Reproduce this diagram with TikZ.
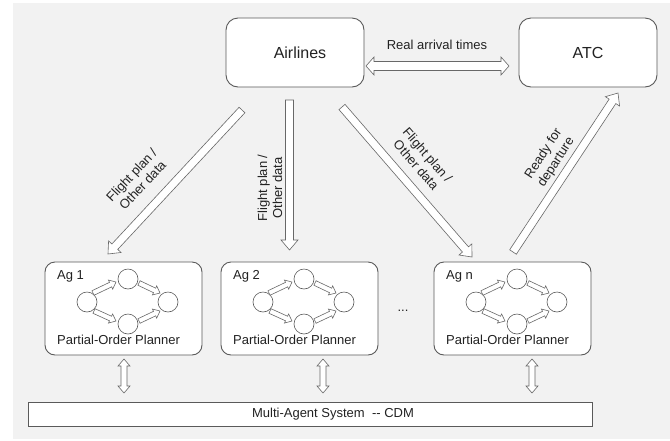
\documentclass[tikz,border=0pt]{standalone}
\usepackage{fontspec}
\setmainfont{Liberation Sans}
\usetikzlibrary{calc}

\definecolor{bggray}{HTML}{F2F2F2}
\definecolor{edge}{HTML}{5A5A5A}
\definecolor{arrowedge}{HTML}{686868}
\definecolor{ink}{HTML}{222222}

% hollow block arrow from #1 to #2: half body width #3, half head width #4, head length #5
\newcommand\blkarrow[5]{%
  \coordinate (blk-h) at ($(#2)!#5!(#1)$);
  \draw[hollowarrow] ($(#1)!#3!90:(#2)$) -- ($(blk-h)!#3!90:(#2)$) -- ($(blk-h)!#4!90:(#2)$)
    -- (#2) -- ($(blk-h)!#4!-90:(#2)$) -- ($(blk-h)!#3!-90:(#2)$) -- ($(#1)!#3!-90:(#2)$) -- cycle;
}
% hollow block arrow with a head at both ends
\newcommand\dblkarrow[5]{%
  \coordinate (blk-a) at ($(#1)!#5!(#2)$);
  \coordinate (blk-b) at ($(#2)!#5!(#1)$);
  \draw[hollowarrow] (#1) -- ($(blk-a)!#4!90:(#2)$) -- ($(blk-a)!#3!90:(#2)$) -- ($(blk-b)!#3!90:(#2)$)
    -- ($(blk-b)!#4!90:(#2)$) -- (#2) -- ($(blk-b)!#4!-90:(#2)$) -- ($(blk-b)!#3!-90:(#2)$)
    -- ($(blk-a)!#3!-90:(#2)$) -- ($(blk-a)!#4!-90:(#2)$) -- cycle;
}

\tikzset{
  bigbox/.style={draw=edge, line width=0.9pt, rounded corners=12pt, fill=white,
    minimum width=138pt, minimum height=69pt, inner sep=0pt,
    font=\fontsize{16}{19}\selectfont, text=ink},
  agbox/.style={draw=edge, line width=0.9pt, rounded corners=10pt, fill=white},
  plannode/.style={circle, draw=edge, line width=0.6pt, fill=white, minimum size=20pt, inner sep=0pt},
  hollowarrow/.style={draw=arrowedge, line width=0.6pt, fill=white, line join=miter},
  lbl/.style={font=\fontsize{13}{15}\selectfont, text=ink, align=center, inner sep=0pt},
  small/.style={font=\fontsize{13}{15}\selectfont, text=ink, inner sep=0pt},
  masbox/.style={draw=edge, line width=0.9pt, fill=white, minimum width=564pt,
    minimum height=24pt, inner sep=0pt, font=\fontsize{13}{15}\selectfont, text=ink},
}

\begin{document}
\begin{tikzpicture}[x=1pt, y=-1pt]
\useasboundingbox (0,0) rectangle (670,440);
\fill[bggray] (13,3) rectangle (670,439);

% top level actors
\node[bigbox] (airlines) at (295,52.5) {\hspace*{10pt}Airlines};
\node[bigbox] (atc) at (588,52.5) {ATC};

% information flow between airlines and ATC
\coordinate (ra-a) at (366,66);
\coordinate (ra-b) at (509,66);
\dblkarrow{ra-a}{ra-b}{4.5pt}{9pt}{8pt}
\node[small] (ra-lbl) at (437,45) {Real arrival times};

% agents
\foreach \n/\x/\lab in {ag1/45/Ag 1, ag2/221/Ag 2, agn/434/Ag n}{
  \begin{scope}[shift={(\x,262)}]
    \draw[agbox] (0,0) rectangle (157,93);
    \node[small, anchor=base west] (\n-name) at (12,279-262) {\lab};
    \node[small, anchor=base west] (\n-pop) at (12,344-262) {Partial-Order Planner};
    \node[plannode] (\n-l) at (42,40) {};
    \node[plannode] (\n-t) at (83,17) {};
    \node[plannode] (\n-r) at (123,40) {};
    \node[plannode] (\n-b) at (83,62) {};
    \coordinate (\n-a1s) at (48,31);  \coordinate (\n-a1e) at (71,20);
    \coordinate (\n-a2s) at (94,21);  \coordinate (\n-a2e) at (115,31);
    \coordinate (\n-a3s) at (49,49);  \coordinate (\n-a3e) at (71,59);
    \coordinate (\n-a4s) at (94,59);  \coordinate (\n-a4e) at (115,49);
    \blkarrow{\n-a1s}{\n-a1e}{2.5pt}{5pt}{6pt}
    \blkarrow{\n-a2s}{\n-a2e}{2.5pt}{5pt}{6pt}
    \blkarrow{\n-a3s}{\n-a3e}{2.5pt}{5pt}{6pt}
    \blkarrow{\n-a4s}{\n-a4e}{2.5pt}{5pt}{6pt}
  \end{scope}
}
\node[small] (dots) at (403,311) {...};

% flight plans sent to the agents
\coordinate (f1s) at (242,110);   \coordinate (f1e) at (108,254);
\coordinate (f2s) at (289.5,100); \coordinate (f2e) at (289.5,250);
\coordinate (f3s) at (342,107);   \coordinate (f3e) at (472,257);
\coordinate (rds) at (513,252);   \coordinate (rde) at (618,93);
\blkarrow{f1s}{f1e}{4pt}{8.5pt}{10pt}
\blkarrow{f2s}{f2e}{4pt}{8.5pt}{10pt}
\blkarrow{f3s}{f3e}{4pt}{8.5pt}{10pt}
\blkarrow{rds}{rde}{4pt}{8.5pt}{10pt}
\node[lbl, rotate=47] (f1-lbl) at (137,180) {Flight plan /\\Other data};
\node[lbl, rotate=90] (f2-lbl) at (270,188) {Flight plan /\\Other data};
\node[lbl, rotate=-49] (f3-lbl) at (422,160) {Flight plan /\\Other data};
\node[lbl, rotate=57] (rd-lbl) at (550,158) {Ready for\\departure};

% multi-agent system layer
\node[masbox] (mas) at (310,414) {\hspace*{46pt}Multi-Agent System\ \ -{}-\ CDM};
\foreach \n/\x in {ag1/124, ag2/323, agn/532}{
  \coordinate (\n-up) at (\x,359);
  \coordinate (\n-dn) at (\x,393);
  \dblkarrow{\n-up}{\n-dn}{3pt}{6pt}{7pt}
}
\end{tikzpicture}
\end{document}
